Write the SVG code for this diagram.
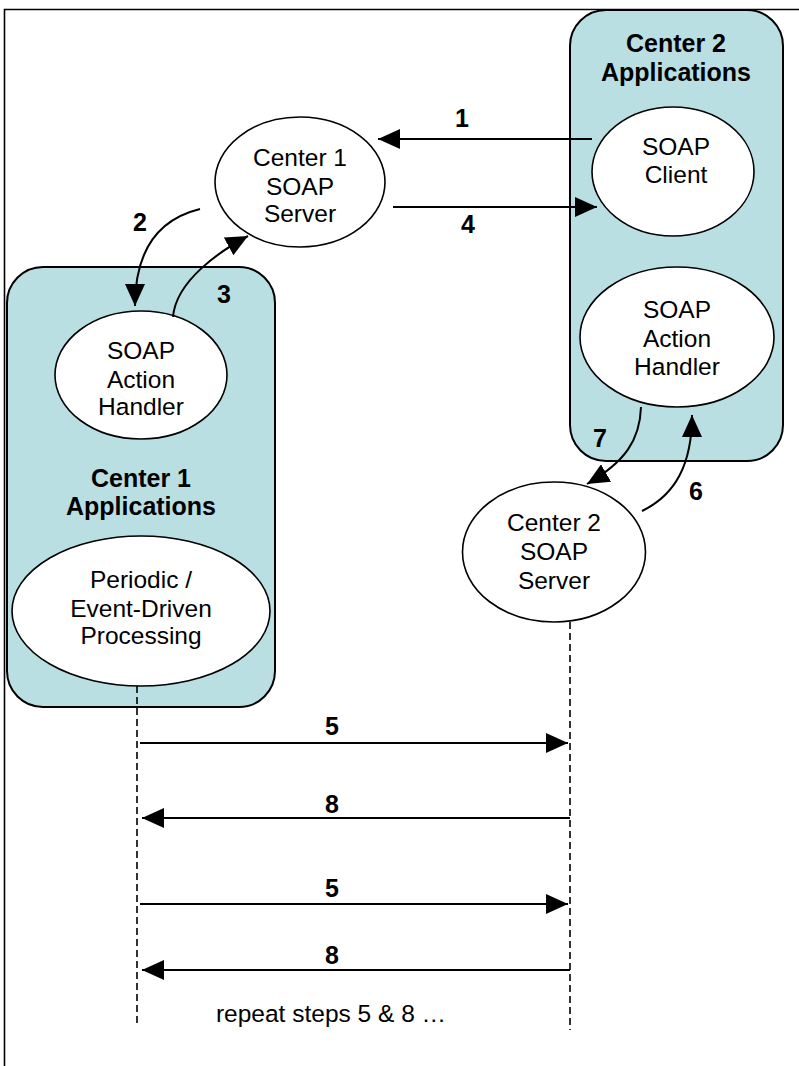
<svg xmlns="http://www.w3.org/2000/svg" width="799" height="1066" viewBox="0 0 799 1066">
<style>
  .box { fill: #b9dfe2; stroke: #000; stroke-width: 2; }
  .node { fill: #fff; stroke: #000; stroke-width: 1.6; }
  .t { font-family: "Liberation Sans", Arial, sans-serif; font-size: 24.5px; fill: #000; text-anchor: middle; }
  .b { font-family: "Liberation Sans", Arial, sans-serif; font-size: 25px; font-weight: bold; fill: #000; text-anchor: middle; }
  .conn { fill: none; stroke: #000; stroke-width: 2; }
  .life { fill: none; stroke: #000; stroke-width: 1.6; stroke-dasharray: 7 4; }
</style>
<defs>
  <marker id="ah" viewBox="0 0 22 20" refX="22" refY="10" markerWidth="22" markerHeight="20" markerUnits="userSpaceOnUse" orient="auto">
    <path d="M0,0 L22,10 L0,20 z" fill="#000"/>
  </marker>
</defs>
<rect width="799" height="1066" fill="#fff"/>
<path d="M4.5,1066 V9.5 H799" fill="none" stroke="#000" stroke-width="1.6"/>

<g id="center2-apps">
  <rect class="box" x="570" y="10" width="213" height="451" rx="36" ry="36"/>
  <text class="b" x="676" y="52">Center 2</text>
  <text class="b" x="676" y="81">Applications</text>
</g>
<g id="center1-apps">
  <rect class="box" x="7" y="267" width="268" height="440" rx="36" ry="36"/>
  <text class="b" x="141" y="487">Center 1</text>
  <text class="b" x="141" y="515">Applications</text>
</g>

<g id="lifelines">
  <line class="life" x1="137" y1="686" x2="137" y2="1026"/>
  <line class="life" x1="570" y1="622" x2="570" y2="1030"/>
</g>

<g id="c1-soap-server">
  <ellipse class="node" cx="300" cy="182" rx="85" ry="65"/>
  <text class="t" x="300" y="166">Center 1</text>
  <text class="t" x="300" y="195">SOAP</text>
  <text class="t" x="300" y="222">Server</text>
</g>
<g id="c2-soap-client">
  <ellipse class="node" cx="673" cy="171.5" rx="81" ry="64.5"/>
  <text class="t" x="676" y="155">SOAP</text>
  <text class="t" x="676" y="183">Client</text>
</g>
<g id="c2-action-handler">
  <ellipse class="node" cx="677" cy="337" rx="97" ry="70"/>
  <text class="t" x="677" y="318">SOAP</text>
  <text class="t" x="677" y="347">Action</text>
  <text class="t" x="677" y="375">Handler</text>
</g>
<g id="c1-action-handler">
  <ellipse class="node" cx="141" cy="375" rx="86" ry="64"/>
  <text class="t" x="141" y="359">SOAP</text>
  <text class="t" x="141" y="388">Action</text>
  <text class="t" x="141" y="415">Handler</text>
</g>
<g id="c1-periodic">
  <ellipse class="node" cx="141" cy="611" rx="129" ry="75"/>
  <text class="t" x="141" y="588">Periodic /</text>
  <text class="t" x="141" y="617">Event-Driven</text>
  <text class="t" x="141" y="644">Processing</text>
</g>
<g id="c2-soap-server">
  <ellipse class="node" cx="554" cy="552" rx="91.5" ry="70"/>
  <text class="t" x="554" y="531">Center 2</text>
  <text class="t" x="554" y="560">SOAP</text>
  <text class="t" x="554" y="589">Server</text>
</g>

<g id="connectors">
  <line class="conn" x1="592" y1="139" x2="378" y2="139" marker-end="url(#ah)"/>
  <line class="conn" x1="393" y1="207" x2="597" y2="207" marker-end="url(#ah)"/>
  <path class="conn" d="M200,209 Q135,225 135,306" marker-end="url(#ah)"/>
  <path class="conn" d="M173,317 C176,280 222,250 248,236" marker-end="url(#ah)"/>
  <path class="conn" d="M641,407 C640,440 625,462 587,484" marker-end="url(#ah)"/>
  <path class="conn" d="M642,511 C675,495 692,465 692,415" marker-end="url(#ah)"/>
  <line class="conn" x1="140" y1="743" x2="568" y2="743" marker-end="url(#ah)"/>
  <line class="conn" x1="570" y1="818" x2="142" y2="818" marker-end="url(#ah)"/>
  <line class="conn" x1="140" y1="904" x2="568" y2="904" marker-end="url(#ah)"/>
  <line class="conn" x1="570" y1="970" x2="142" y2="970" marker-end="url(#ah)"/>
  <text class="b" x="462" y="127">1</text>
  <text class="b" x="140" y="231">2</text>
  <text class="b" x="224" y="303">3</text>
  <text class="b" x="468" y="233">4</text>
  <text class="b" x="696" y="500">6</text>
  <text class="b" x="600" y="447">7</text>
  <text class="b" x="332" y="735">5</text>
  <text class="b" x="332" y="813">8</text>
  <text class="b" x="332" y="897">5</text>
  <text class="b" x="332" y="964">8</text>
  <text class="t" x="331" y="1022">repeat steps 5 &amp; 8 …</text>
</g>
</svg>
